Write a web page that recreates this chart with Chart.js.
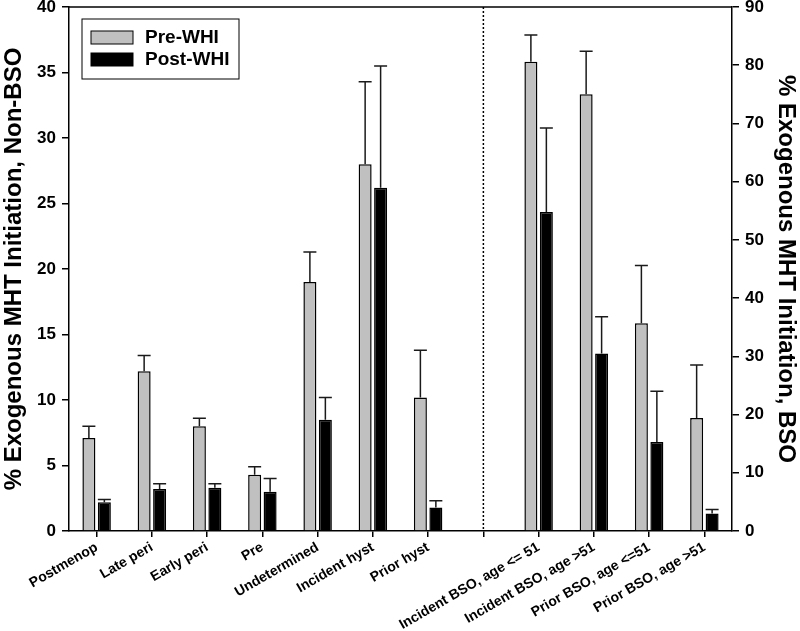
<!DOCTYPE html>
<html>
<head>
<meta charset="utf-8">
<script src="https://cdn.jsdelivr.net/npm/chart.js@4.4.0/dist/chart.umd.min.js"></script>
<style>
  html, body { margin: 0; padding: 0; background: #fff; }
  #wrap { width: 800px; height: 631px; }
</style>
</head>
<body>
<div id="wrap"><canvas id="grafico"></canvas></div>
<script>
// Categories (the empty one is the gap at the dotted line)
const categories = ["Postmenop", "Late peri", "Early peri", "Pre", "Undetermined", "Incident hyst", "Prior hyst", "",
  "Incident BSO, age <= 51", "Incident BSO, age >51", "Prior BSO, age <=51", "Prior BSO, age >51"];

// Non-BSO groups, left axis
const preNonBSO = [7.1, 12.2, 8.0, 4.3, 19.0, 28.0, 10.2, null, null, null, null, null];
const postNonBSO = [2.2, 3.2, 3.3, 3.0, 8.5, 26.2, 1.8, null, null, null, null, null];
const preNonBSOUpper = [8.0, 13.4, 8.6, 4.9, 21.3, 34.3, 13.8, null, null, null, null, null];
const postNonBSOUpper = [2.4, 3.6, 3.6, 4.0, 10.2, 35.5, 2.3, null, null, null, null, null];

// BSO groups, right axis
const preBSO = [null, null, null, null, null, null, null, null, 80.6, 75.0, 35.7, 19.4];
const postBSO = [null, null, null, null, null, null, null, null, 54.8, 30.5, 15.3, 3.0];
const preBSOUpper = [null, null, null, null, null, null, null, null, 85.2, 82.4, 45.6, 28.5];
const postBSOUpper = [null, null, null, null, null, null, null, null, 69.2, 36.8, 24.0, 3.7];

const leftTicks = { min: 0, max: 40, step: 5 };
const rightTicks = { min: 0, max: 90, step: 10 };

const GRAY = "#c0c0c0";
const FONT = "Arial, 'Liberation Sans', sans-serif";

// Upper error bars, drawn over the bars
const errorBars = {
  id: "errorBars",
  afterDatasetsDraw(chart) {
    const ctx = chart.ctx;
    ctx.save();
    ctx.strokeStyle = "#1a1a1a";
    ctx.lineWidth = 1.5;
    chart.data.datasets.forEach((ds, di) => {
      const meta = chart.getDatasetMeta(di);
      const scale = chart.scales[ds.yAxisID];
      meta.data.forEach((bar, i) => {
        const up = ds.upper[i];
        if (up == null || ds.data[i] == null) return;
        const yTop = scale.getPixelForValue(up);
        const half = bar.width / 2;
        ctx.beginPath();
        ctx.moveTo(bar.x, bar.y);
        ctx.lineTo(bar.x, yTop);
        ctx.moveTo(bar.x - half, yTop);
        ctx.lineTo(bar.x + half, yTop);
        ctx.stroke();
      });
    });
    ctx.restore();
  }
};

// Top frame line, dotted separator and the boxed legend
const extras = {
  id: "extras",
  afterDraw(chart) {
    const ctx = chart.ctx;
    const a = chart.chartArea;
    ctx.save();
    ctx.strokeStyle = "#000";
    ctx.lineWidth = 1.5;
    ctx.beginPath();
    ctx.moveTo(a.left, a.top);
    ctx.lineTo(a.right, a.top);
    ctx.stroke();

    const xGap = chart.scales.x.getPixelForValue(7);
    ctx.lineWidth = 1.5;
    ctx.setLineDash([2, 2]);
    ctx.beginPath();
    ctx.moveTo(xGap, a.top);
    ctx.lineTo(xGap, a.bottom);
    ctx.stroke();
    ctx.setLineDash([]);

    // legend
    const lx = a.left + 13, ly = a.top + 12;
    ctx.lineWidth = 1;
    ctx.strokeRect(lx, ly, 157, 60);
    const items = [["Pre-WHI", GRAY], ["Post-WHI", "#000"]];
    ctx.font = "bold 19px " + FONT;
    ctx.textBaseline = "middle";
    ctx.fillStyle = "#000";
    items.forEach((it, k) => {
      const y = ly + 12 + k * 22;
      ctx.fillStyle = it[1];
      ctx.fillRect(lx + 9, y, 42, 13);
      ctx.strokeRect(lx + 9, y, 42, 13);
      ctx.fillStyle = "#000";
      ctx.fillText(it[0], lx + 63, y + 7);
    });
    ctx.restore();
  }
};

const barStyle = { borderWidth: 1.5, borderColor: "#000", skipNull: true, barPercentage: 0.84, categoryPercentage: 0.56 };

const ctx = document.getElementById("grafico").getContext("2d");
const grafico = new Chart(ctx, {
  type: "bar",
  data: {
    labels: categories,
    datasets: [
      { label: "Pre-WHI", data: preNonBSO, upper: preNonBSOUpper, yAxisID: "y", backgroundColor: GRAY, ...barStyle },
      { label: "Post-WHI", data: postNonBSO, upper: postNonBSOUpper, yAxisID: "y", backgroundColor: "#000", ...barStyle },
      { label: "Pre-WHI BSO", data: preBSO, upper: preBSOUpper, yAxisID: "y2", backgroundColor: GRAY, ...barStyle },
      { label: "Post-WHI BSO", data: postBSO, upper: postBSOUpper, yAxisID: "y2", backgroundColor: "#000", ...barStyle }
    ]
  },
  options: {
    responsive: true,
    maintainAspectRatio: false,
    animation: false,
    layout: { padding: { top: 7, left: 0, right: 0, bottom: 0 } },
    plugins: { legend: { display: false }, tooltip: { enabled: false } },
    scales: {
      x: {
        offset: true,
        grid: { offset: false, drawOnChartArea: false, drawTicks: true, tickLength: 6, color: "#000", lineWidth: 1.5 },
        border: { color: "#000", width: 1.5 },
        ticks: { autoSkip: false, minRotation: 30, maxRotation: 30, color: "#000", padding: 2, font: { family: FONT, size: 14, weight: "bold" } },
        afterFit(scale) { scale.height = 100; }
      },
      y: {
        position: "left",
        min: leftTicks.min, max: leftTicks.max,
        grid: { drawOnChartArea: false, tickLength: 7, color: "#000", lineWidth: 1.5 },
        border: { color: "#000", width: 1.5 },
        ticks: { stepSize: leftTicks.step, color: "#000", padding: 6, font: { family: FONT, size: 17, weight: "bold" } },
        title: { display: true, text: "% Exogenous MHT Initiation, Non-BSO", color: "#000", padding: 0, font: { family: FONT, size: 24, weight: "bold" } },
        afterFit(scale) { scale.width = 69; scale.paddingTop = 0; scale.paddingBottom = 0; }
      },
      y2: {
        position: "right",
        min: rightTicks.min, max: rightTicks.max,
        grid: { drawOnChartArea: false, tickLength: 7, color: "#000", lineWidth: 1.5 },
        border: { color: "#000", width: 1.5 },
        ticks: { stepSize: rightTicks.step, color: "#000", padding: 6, font: { family: FONT, size: 17, weight: "bold" } },
        title: { display: true, text: "% Exogenous MHT Initiation, BSO", color: "#000", padding: 0, font: { family: FONT, size: 24, weight: "bold" } },
        afterFit(scale) { scale.width = 68; scale.paddingTop = 0; scale.paddingBottom = 0; }
      }
    }
  },
  plugins: [errorBars, extras]
});
</script>
</body>
</html>
